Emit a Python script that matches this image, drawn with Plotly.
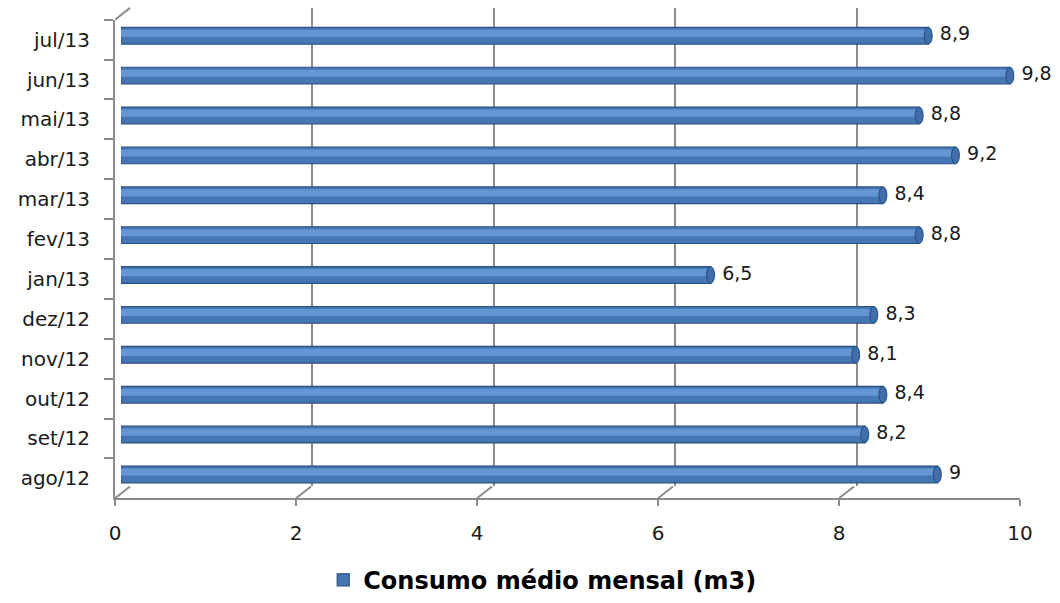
import plotly.graph_objects as go

# Consumo médio mensal (m3), ago/12 .. jul/13
meses = ["ago/12", "set/12", "out/12", "nov/12", "dez/12", "jan/13",
         "fev/13", "mar/13", "abr/13", "mai/13", "jun/13", "jul/13"]
consumo = [9.0, 8.2, 8.4, 8.1, 8.3, 6.5, 8.8, 8.4, 9.2, 8.8, 9.8, 8.9]
x_ticks = [0, 2, 4, 6, 8, 10]
serie_nome = "Consumo médio mensal (m3)"

W, H = 1060, 603
GRID = "#8C8C8C"
TXT = "#1A1A1A"
FONT = "DejaVu Sans"


def fx(p):
    return p / W


def fy(p):
    return 1 - p / H


def fmt(v):
    s = f"{v:g}"
    return s.replace(".", ",")


labels = [fmt(v) for v in consumo]

fig = go.Figure()

# back wall (gridlines)
fig.add_trace(go.Scatter(x=[0, 10], y=[0, 1], mode="markers",
                         marker=dict(opacity=0), hoverinfo="skip",
                         showlegend=False, xaxis="x", yaxis="y"))
# front axes (tick labels)
fig.add_trace(go.Scatter(x=consumo, y=meses, mode="markers",
                         marker=dict(opacity=0), hoverinfo="skip",
                         showlegend=False, xaxis="x2", yaxis="y2"))
# cylinders
fig.add_trace(go.Bar(x=consumo, y=meses, orientation="h", name=serie_nome,
                     width=0.42, marker=dict(color="#4677B5",
                                             line=dict(color="#2B4F80", width=1.2)),
                     xaxis="x3", yaxis="y3"))
fig.add_trace(go.Bar(x=consumo, y=meses, orientation="h", showlegend=False,
                     width=0.18, offset=-0.03,
                     marker=dict(color="#6596D4", line=dict(width=0)),
                     hoverinfo="skip", xaxis="x3", yaxis="y3"))
fig.add_trace(go.Scatter(x=consumo, y=meses, mode="markers+text", text=labels,
                         textposition="middle right", cliponaxis=False,
                         marker=dict(size=17, opacity=0),
                         textfont=dict(family=FONT, size=19, color=TXT),
                         hoverinfo="skip", showlegend=False,
                         xaxis="x3", yaxis="y3"))

shapes = []
# bar end caps
for i, v in enumerate(consumo):
    shapes.append(dict(type="circle", xref="x3", yref="y3",
                       xsizemode="pixel", xanchor=v, x0=-4, x1=4,
                       y0=i - 0.21, y1=i + 0.21,
                       fillcolor="#3F6EAB", line=dict(color="#274B7C", width=1)))
# floor diagonals from the front ticks to the back wall
for t in x_ticks:
    shapes.append(dict(type="line", xref="x2", xsizemode="pixel", xanchor=t,
                       x0=0, x1=15, yref="y2 domain", y0=0, y1=12 / 485,
                       line=dict(color=GRID, width=2), layer="below"))
# top of left wall
shapes.append(dict(type="line", xref="x2", xsizemode="pixel", xanchor=0,
                   x0=0, x1=15, yref="y2 domain", y0=1, y1=1 + 12 / 485,
                   line=dict(color=GRID, width=2), layer="below"))

axis_font = dict(family=FONT, size=20, color=TXT)

fig.update_layout(
    width=W, height=H, autosize=False,
    margin=dict(l=0, r=0, t=0, b=0),
    paper_bgcolor="white", plot_bgcolor="rgba(0,0,0,0)",
    barmode="overlay",
    showlegend=True,
    legend=dict(orientation="h", x=0.512, xanchor="center",
                y=fy(588), yanchor="middle", itemwidth=30,
                font=dict(family=FONT, size=24, color="#000000", weight="bold")),
    shapes=shapes,
    xaxis=dict(domain=[fx(130), fx(1039)], range=[-0.0001, 10.0001],
               tickvals=x_ticks, showticklabels=False, showgrid=True,
               gridcolor=GRID, gridwidth=2, zeroline=False, showline=False,
               anchor="y", fixedrange=True),
    yaxis=dict(domain=[fy(493), fy(8)], range=[0, 1], visible=False,
               anchor="x", fixedrange=True),
    xaxis2=dict(domain=[fx(115), fx(1020)], range=[0, 10], tickvals=x_ticks,
                showgrid=False, zeroline=False, showline=True, linecolor=GRID,
                linewidth=2, ticks="outside", ticklen=6, tickwidth=2,
                tickcolor=GRID, tickfont=axis_font, ticklabelstandoff=10,
                anchor="y2", automargin=False, fixedrange=True),
    yaxis2=dict(domain=[fy(505), fy(20)], type="category",
                categoryorder="array", categoryarray=meses,
                range=[-0.5, len(meses) - 0.5],
                showgrid=False, zeroline=False, showline=True, linecolor=GRID,
                linewidth=2, ticks="outside", tickson="boundaries", ticklen=9,
                tickwidth=2, tickcolor=GRID, tickfont=axis_font,
                ticklabelstandoff=19,
                anchor="x2", automargin=False, fixedrange=True),
    xaxis3=dict(domain=[fx(121), fx(1028)], range=[0, 10], visible=False,
                anchor="y3", fixedrange=True),
    yaxis3=dict(domain=[fy(501), fy(16)], type="category",
                categoryorder="array", categoryarray=meses,
                range=[-0.5, len(meses) - 0.5], visible=False,
                anchor="x3", fixedrange=True),
)

fig.write_html("out.html")
